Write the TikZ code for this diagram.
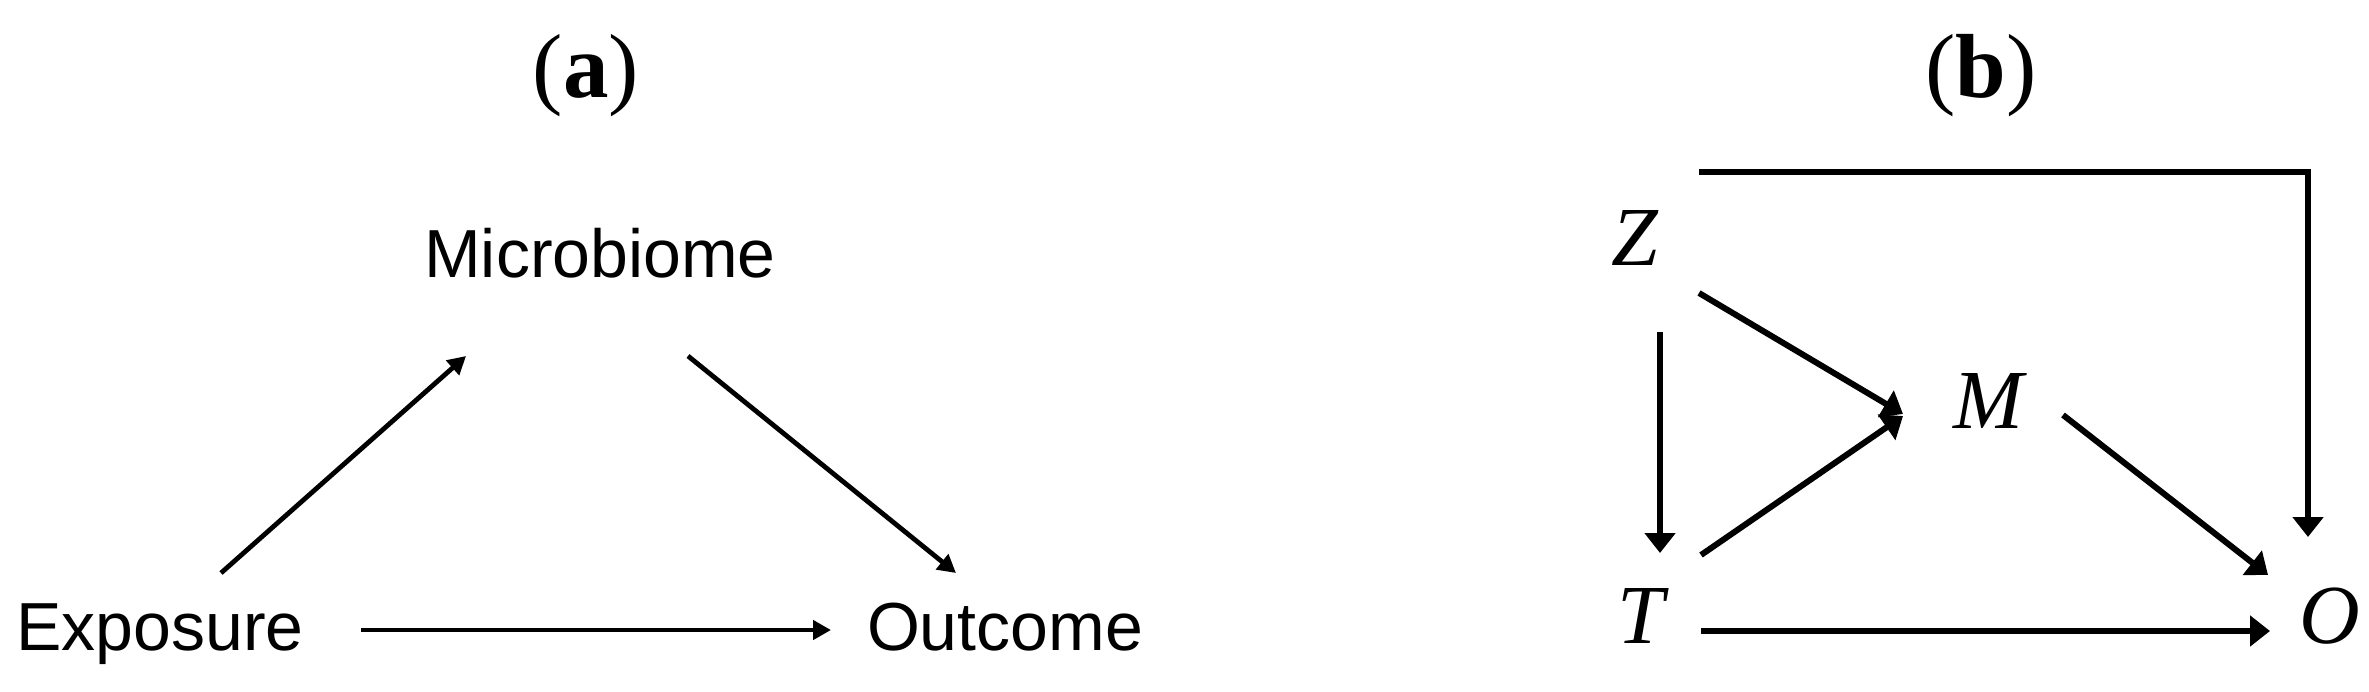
\documentclass[tikz,border=0pt]{standalone}
\usepackage{fontspec}
\setmainfont{Liberation Serif}
\setsansfont{Liberation Sans}
\usetikzlibrary{arrows.meta}
\tikzset{
  sanslbl/.style={inner sep=0pt, anchor=base, font=\sffamily\fontsize{34}{40}\selectfont},
  varlbl/.style={inner sep=0pt, anchor=base, font=\itshape\fontsize{42}{48}\selectfont},
  panellbl/.style={inner sep=0pt, anchor=base, font=\fontsize{45.5}{52}\selectfont},
  arra/.style={line width=2.4pt, -{Triangle[length=9pt,width=9.5pt]}},
  arrb/.style={line width=3pt, -{Triangle[length=10pt,width=15pt]}},
}
\begin{document}
\begin{tikzpicture}[x=0.5pt,y=-0.5pt]
\useasboundingbox (0,0) rectangle (2369,691);
% panel labels
\node[panellbl] (la) at (586,97) {(\textbf{a})};
\node[panellbl] (lb) at (1981,97) {(\textbf{b})};
% panel (a) nodes
\node[sanslbl] (mic) at (600,277) {Microbiome};
\node[sanslbl] (exp) at (160,650) {Exposure};
\node[sanslbl] (out) at (1005,650) {Outcome};
% panel (a) connector ends
\coordinate (expA) at (221,573);
\coordinate (micA) at (466,356);
\coordinate (micB) at (688,356);
\coordinate (outA) at (956,573);
\coordinate (expB) at (361,630);
\coordinate (outB) at (831,630);
\draw[arra] (expA) -- (micA);
\draw[arra] (micB) -- (outA);
\draw[arra] (expB) -- (outB);
% panel (b) nodes
\node[varlbl] (Z) at (1635,265) {Z};
\node[varlbl] (M) at (1988,428) {M};
\node[varlbl] (T) at (1641,643) {T};
\node[varlbl] (O) at (2330,643) {O};
% panel (b) connector ends
\coordinate (Ztop) at (1699,172);
\coordinate (Otop) at (2308,537);
\coordinate (Zdown) at (1660,332);
\coordinate (Tup) at (1660,553);
\coordinate (Zright) at (1699,293);
\coordinate (MinZ) at (1903,414);
\coordinate (Tright) at (1701,555);
\coordinate (MinT) at (1903,416);
\coordinate (Mout) at (2063,415);
\coordinate (OinM) at (2268,575);
\coordinate (Tout) at (1701,631);
\coordinate (OinT) at (2270,631);
\draw[arrb] (Ztop) -| (Otop);
\draw[arrb] (Zdown) -- (Tup);
\draw[arrb] (Zright) -- (MinZ);
\draw[arrb] (Tright) -- (MinT);
\draw[arrb] (Mout) -- (OinM);
\draw[arrb] (Tout) -- (OinT);
\end{tikzpicture}
\end{document}
